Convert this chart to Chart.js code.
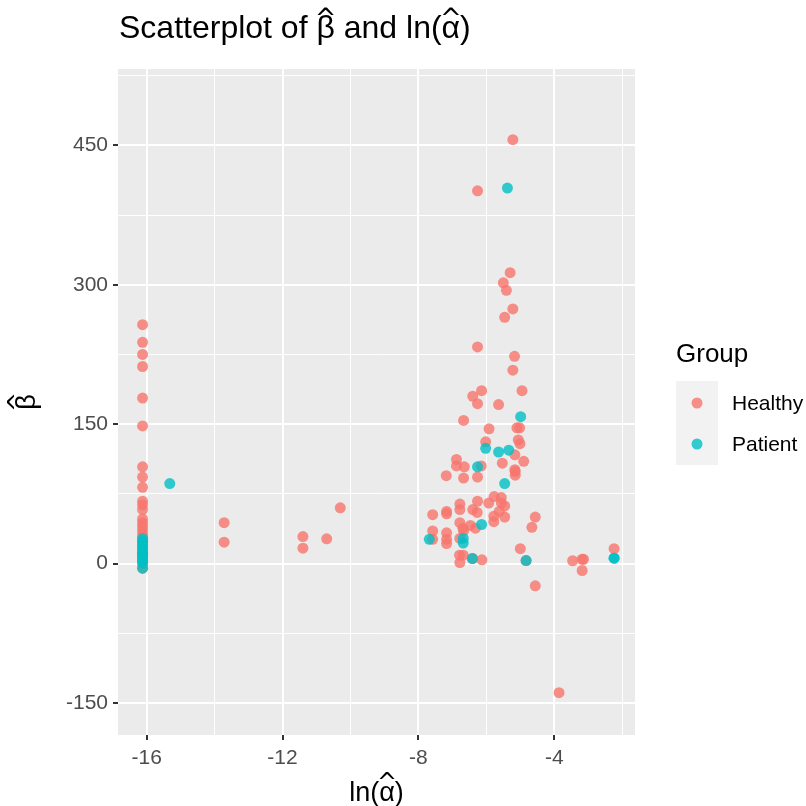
<!DOCTYPE html>
<html>
<head>
<meta charset="utf-8">
<title>Scatterplot</title>
<script src="https://cdn.jsdelivr.net/npm/chart.js@4.4.1/dist/chart.umd.min.js"></script>
<style>
  html, body { margin: 0; padding: 0; background: #ffffff; }
  #wrap { width: 806px; height: 806px; }
</style>
</head>
<body>
<div id="wrap"><canvas id="myChart" width="806" height="806"></canvas></div>
<script>
// ln(alpha hat) and beta hat
const healthyX = [
  -16.12, -16.12, -16.12, -16.12, -16.12, -16.12, -16.12, -16.12, -16.12, -16.12,
  -16.12, -16.12, -16.12, -16.12, -16.12, -16.12, -16.12, -16.12, -16.12, -16.12,
  -16.12, -16.12, -16.12, -16.12, -16.12, -16.12,
  -13.72, -13.72, -11.40, -11.40, -10.70, -10.30,
  -5.22, -6.26, -5.30, -5.50, -5.41, -5.22, -5.46,
  -6.26, -5.17, -5.22, -6.14, -6.40, -6.26, -4.95, -5.64,
  -6.67, -5.92, -5.10, -5.02, -6.02, -5.06, -5.01,
  -5.16, -4.90, -6.88, -5.53, -6.88, -6.65, -6.15, -5.16,
  -5.15, -5.15, -7.18, -6.67, -6.26,
  -5.77, -5.56, -5.56, -5.46, -5.93, -6.26, -6.78, -6.78, -7.17, -7.17,
  -7.58, -6.40, -6.27, -5.62, -5.46, -5.78, -5.78, -6.78, -6.47, -6.32,
  -6.69, -6.67, -7.58, -7.17, -7.17, -7.17, -7.58, -6.78, -6.79, -6.68,
  -6.78, -6.13, -5.00, -4.56, -4.66, -4.56, -6.41, -4.83,
  -3.46, -3.18, -3.14, -3.18, -2.24, -3.86
];
const healthyY = [
  257, 238, 225, 212, 178, 148, 104, 93, 82, 67,
  63, 58, 48, 44, 40, 36, 32, 28, 24, 20,
  16, 12, 8, 4, 0, -5,
  44, 23, 29, 16.5, 26.6, 60,
  456, 401, 313, 302, 294, 274, 265,
  233, 223, 208, 186, 180, 172, 186, 171,
  154, 145, 146, 146, 131, 133, 129,
  117, 110, 112, 108, 105, 104, 105, 101,
  99, 95, 94.5, 92, 93,
  72, 71, 65, 62, 65, 67, 64, 58, 56, 53.5,
  52.5, 58, 55, 56, 50, 51, 45, 44, 41, 38,
  38, 35, 35, 33, 26, 21.5, 26, 27, 9, 9,
  1, 4, 16, 50, 39, -24, 5.4, 3.2,
  3, 4.6, 4.6, -7.5, 16, -139
];
const patientX = [
  -16.12, -16.12, -16.12, -16.12, -16.12, -16.12, -16.12, -16.12, -16.12, -16.12,
  -16.12, -16.12,
  -15.32, -5.38, -4.99, -6.02, -5.64, -5.34, -6.26, -5.46,
  -6.14, -7.68, -6.68, -6.68, -6.41, -4.83, -2.24, -2.24
];
const patientY = [
  27, 24, 21, 18, 15, 12, 10, 8, 6, 3,
  1, -5,
  86, 404, 158, 124, 120, 122, 104, 86,
  42, 26, 27, 22, 5.4, 3.2, 5.7, 5.7
];

const groups = ["Healthy", "Patient"];
const groupColors = ["rgba(248,118,109,0.8)", "rgba(0,191,196,0.8)"];
const xTicks = [-16, -14, -12, -10, -8, -6, -4, -2];
const yTicks = [-150, -75, 0, 75, 150, 225, 300, 375, 450, 525];

// text pieces, true = letter wears a hat
const titleParts = [["Scatterplot of ", false], ["β", true], [" and ln(", false], ["α", true], [")", false]];
const xTitleParts = [["ln(", false], ["α", true], [")", false]];
const yTitleParts = [["β", true]];

function toPoints(xs, ys) {
  return xs.map(function (x, i) { return { x: x, y: ys[i] }; });
}

const FONT = "'Liberation Sans', Arial, Helvetica, sans-serif";
const HATFONT = "'DejaVu Sans', sans-serif";

// draws text left to right from x (or centred on x), putting a ^ over flagged letters
function drawHatText(ctx, parts, x, base, size, hatSize, hatTop, center) {
  ctx.font = size + "px " + FONT;
  let w = 0;
  parts.forEach(function (p) { w += ctx.measureText(p[0]).width; });
  let cx = center ? x - w / 2 : x;
  ctx.textBaseline = "alphabetic";
  ctx.textAlign = "left";
  parts.forEach(function (p) {
    ctx.font = size + "px " + FONT;
    const pw = ctx.measureText(p[0]).width;
    ctx.fillText(p[0], cx, base);
    if (p[1]) {
      ctx.font = hatSize + "px " + HATFONT;
      ctx.textAlign = "center";
      ctx.fillText("^", cx + pw / 2, base - hatTop + hatSize * 0.729);
      ctx.textAlign = "left";
    }
    cx += pw;
  });
}

const ggPanel = {
  id: "ggPanel",
  beforeDraw: function (chart) {
    const a = chart.chartArea;
    const ctx = chart.ctx;
    ctx.save();
    ctx.fillStyle = "#ebebeb";
    ctx.fillRect(a.left, a.top, a.right - a.left, a.bottom - a.top);
    ctx.restore();
  },
  afterDraw: function (chart) {
    const ctx = chart.ctx;
    const a = chart.chartArea;
    ctx.save();
    ctx.fillStyle = "#000000";
    // title
    drawHatText(ctx, titleParts, 119, 38, 32, 26, 30, false);
    // axis titles
    drawHatText(ctx, xTitleParts, (a.left + a.right) / 2, 801, 27, 24, 28, true);
    ctx.save();
    ctx.translate(35, (a.top + a.bottom) / 2);
    ctx.rotate(-Math.PI / 2);
    drawHatText(ctx, yTitleParts, 0, 0, 27, 24, 27, true);
    ctx.restore();

    // legend
    ctx.textAlign = "left";
    ctx.textBaseline = "alphabetic";
    ctx.font = "26px " + FONT;
    ctx.fillText("Group", 676, 362);
    ctx.fillStyle = "#f2f2f2";
    ctx.fillRect(676, 381, 42, 84);
    const keyY = [403, 444];
    ctx.font = "21px " + FONT;
    ctx.textBaseline = "middle";
    for (let i = 0; i < groups.length; i++) {
      ctx.beginPath();
      ctx.arc(697, keyY[i], 5.5, 0, Math.PI * 2);
      ctx.fillStyle = groupColors[i];
      ctx.fill();
      ctx.fillStyle = "#000000";
      ctx.fillText(groups[i], 732, keyY[i] + 1);
    }
    ctx.restore();
  }
};

new Chart("myChart", {
  type: "scatter",
  data: {
    datasets: [{
      label: groups[0],
      data: toPoints(healthyX, healthyY),
      backgroundColor: groupColors[0],
      borderWidth: 0,
      pointRadius: 5.5,
      order: 2
    }, {
      label: groups[1],
      data: toPoints(patientX, patientY),
      backgroundColor: groupColors[1],
      borderWidth: 0,
      pointRadius: 5.5,
      order: 1
    }]
  },
  options: {
    responsive: false,
    animation: false,
    devicePixelRatio: 1,
    layout: { padding: { top: 69, right: 171, left: 0, bottom: 0 } },
    plugins: {
      legend: { display: false },
      tooltip: { enabled: false }
    },
    scales: {
      x: {
        type: "linear",
        min: -16.844,
        max: -1.624,
        afterBuildTicks: function (s) { s.ticks = xTicks.map(function (v) { return { value: v }; }); },
        afterFit: function (s) { s.height = 71; },
        border: { display: false },
        grid: {
          color: "#ffffff",
          lineWidth: function (c) { return c.tick && c.tick.value % 4 === 0 ? 2 : 1; },
          tickColor: function (c) { return c.tick && c.tick.value % 4 === 0 ? "#333333" : "rgba(0,0,0,0)"; },
          tickLength: 5,
          tickWidth: 2
        },
        ticks: {
          padding: 6,
          maxRotation: 0,
          autoSkip: false,
          color: "#4d4d4d",
          font: { family: FONT, size: 21 },
          callback: function (v) { return v % 4 === 0 ? String(v) : ""; }
        }
      },
      y: {
        type: "linear",
        min: -184.5,
        max: 532.1,
        afterBuildTicks: function (s) { s.ticks = yTicks.map(function (v) { return { value: v }; }); },
        afterFit: function (s) { s.width = 118; },
        border: { display: false },
        grid: {
          color: "#ffffff",
          lineWidth: function (c) { return c.tick && c.tick.value % 150 === 0 ? 2 : 1; },
          tickColor: function (c) { return c.tick && c.tick.value % 150 === 0 ? "#333333" : "rgba(0,0,0,0)"; },
          tickLength: 5,
          tickWidth: 2
        },
        ticks: {
          padding: 5,
          autoSkip: false,
          color: "#4d4d4d",
          font: { family: FONT, size: 21 },
          callback: function (v) { return v % 150 === 0 ? String(v) : ""; }
        }
      }
    }
  },
  plugins: [ggPanel]
});
</script>
</body>
</html>
